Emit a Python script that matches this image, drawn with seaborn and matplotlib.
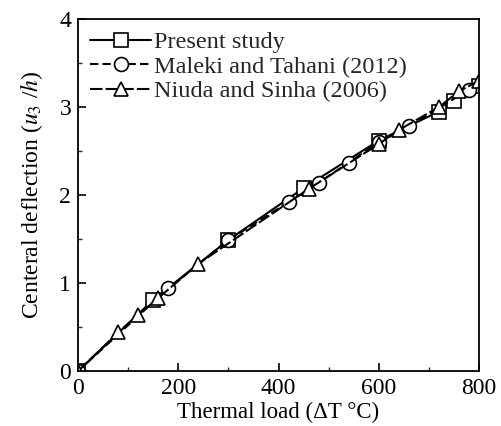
import matplotlib

matplotlib.use("Agg")
import matplotlib.pyplot as plt
import numpy as np
import pandas as pd
import seaborn as sns

# values
present_load = [0, 150, 300, 450, 600, 720, 750, 800]
present_defl = [0.0, 0.81, 1.49, 2.08, 2.62, 2.95, 3.07, 3.24]

maleki_load = [0, 180, 300, 420, 480, 540, 600, 660, 780]
maleki_defl = [0.0, 0.94, 1.49, 1.92, 2.14, 2.37, 2.60, 2.78, 3.20]

niuda_load = [0, 80, 120, 160, 240, 460, 600, 640, 720, 760, 800]
niuda_defl = [0.0, 0.44, 0.64, 0.83, 1.22, 2.07, 2.58, 2.74, 3.00, 3.18, 3.30]

labels = ["Present study", "Maleki and Tahani (2012)", "Niuda and Sinha (2006)"]

sns.set_theme(style="ticks")
plt.rcParams["font.family"] = ["Liberation Serif", "DejaVu Serif"]
plt.rcParams["mathtext.fontset"] = "stix"

fig = plt.figure(figsize=(5.01, 4.26), dpi=100)
ax = fig.add_axes([0.156, 0.129, 0.80, 0.826])

series = [
    (present_load, present_defl, "s", None, labels[0]),
    (maleki_load, maleki_defl, "o", (4, 2), labels[1]),
    (niuda_load, niuda_defl, "^", (6, 1.5), labels[2]),
]
for xs, ys, mk, dash, lab in series:
    df = pd.DataFrame({"x": xs, "y": ys})
    sns.lineplot(
        data=df, x="x", y="y", ax=ax, color="black", linewidth=1.5,
        marker=mk, markersize=10, markerfacecolor="white",
        markeredgecolor="black", markeredgewidth=1.2, label=lab,
    )
    if dash is not None:
        ax.lines[-1].set_dashes(dash)

ax.set_xlim(0, 800)
ax.set_ylim(0, 4)
ax.set_xticks([0, 200, 400, 600, 800])
ax.set_xticks([100, 300, 500, 700], minor=True)
ax.set_yticks([0, 1, 2, 3, 4])
ax.set_yticks([0.5, 1.5, 2.5, 3.5], minor=True)
ax.tick_params(which="major", direction="in", length=6, width=1.2, labelsize=17,
               top=False, right=False, colors="black", pad=5)
ax.tick_params(which="minor", direction="in", length=3, width=1.0,
               top=False, right=False)
for sp in ax.spines.values():
    sp.set_linewidth(1.3)
    sp.set_color("black")

ax.set_xlabel("Thermal load (\u0394T \u00b0C)", fontsize=16.5, color="black", labelpad=2)
ax.set_ylabel("Centeral deflection ($u_3$ /$h$)", fontsize=17, color="black", labelpad=10)

ax.legend(loc="upper left", frameon=False, fontsize=17.5, handlelength=2.5,
          borderaxespad=0.3, labelspacing=0.1, handletextpad=0.1,
          borderpad=0.2)

fig.savefig("out.png", dpi=100)
